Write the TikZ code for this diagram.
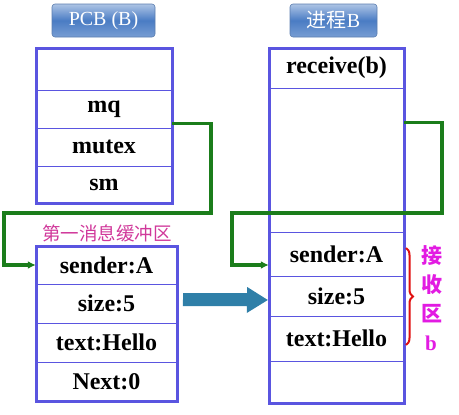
\documentclass[tikz,border=0pt]{standalone}
\usepackage{fontspec}
\setmainfont{Liberation Serif}
\newfontfamily\cjk{Noto Sans CJK SC}
\usetikzlibrary{decorations.pathreplacing,arrows.meta,calc}
\definecolor{boxc}{HTML}{5A55E0}
\definecolor{grn}{HTML}{1B7D1B}
\definecolor{arrc}{HTML}{2F7FA8}
\definecolor{lbl}{HTML}{4A7CC4}
\definecolor{mag}{HTML}{E21BE2}
\definecolor{pinkt}{HTML}{D0389A}
\definecolor{brc}{HTML}{E01010}
\begin{document}
\begin{tikzpicture}[x=1pt,y=-1pt,
  cell/.style={inner sep=0pt, font=\bfseries\fontsize{24}{24}\selectfont, anchor=center},
  frame/.style={draw=boxc, line width=3pt},
  divider/.style={draw=boxc, line width=0.9pt},
  link/.style={draw=grn, line width=3.2pt, -{Latex[length=8pt,width=8pt]}},
  lblbox/.style={rounded corners=3pt, inner sep=0pt, text=white, draw=lbl!70!gray, line width=0.6pt,
     top color=lbl!45!white, bottom color=lbl!75!white, middle color=lbl},
  side/.style={text=mag, font=\cjk\bfseries\fontsize{21}{21}\selectfont, inner sep=0pt}]
\useasboundingbox (0,0) rectangle (459,415);
% labels
\node[lblbox, minimum width=103pt, minimum height=33pt, font=\fontsize{20}{20}\selectfont] (pcbl) at (103.5,20.5) {PCB (B)};
\node[lblbox, minimum width=87pt, minimum height=33pt, font=\fontsize{20}{20}\selectfont] (procl) at (333.5,20.5) {{\cjk 进程}B};
% left PCB cells
\node[cell, minimum width=136pt, minimum height=42pt] (p0) at (104,69) {};
\node[cell, minimum width=136pt, minimum height=38pt] (mq) at (104,109) {mq};
\node[cell, minimum width=136pt, minimum height=38pt] (mutex) at (104,147) {mutex};
\node[cell, minimum width=136pt, minimum height=37pt] (sm) at (104,184.5) {sm};
\draw[divider] (36,90) -- (172,90) (36,128) -- (172,128) (36,166) -- (172,166);
\draw[frame] (36,48) rectangle (172,203);
% message buffer
\node[text=pinkt, font=\cjk\fontsize{18.5}{18.5}\selectfont, inner sep=0pt] (mtitle) at (107,233) {第一消息缓冲区};
\node[cell, minimum width=141pt, minimum height=38pt] (s1) at (106.5,265) {sender:A};
\node[cell, minimum width=141pt, minimum height=39pt] (s2) at (106.5,303.5) {size:5};
\node[cell, minimum width=141pt, minimum height=39pt] (s3) at (106.5,342.5) {text:Hello};
\node[cell, minimum width=141pt, minimum height=39pt] (s4) at (106.5,381.5) {Next:0};
\draw[divider] (36,284) -- (177,284) (36,323) -- (177,323) (36,362) -- (177,362);
\draw[frame] (36,246) rectangle (177,401);
% right process
\node[cell, minimum width=135pt, minimum height=40pt] (r0) at (336.5,68) {receive(b)};
\node[cell, minimum width=135pt, minimum height=144pt] (r1) at (336.5,160) {};
\node[cell, minimum width=135pt, minimum height=44pt] (r2) at (336.5,254) {sender:A};
\node[cell, minimum width=135pt, minimum height=40pt] (r3) at (336.5,296) {size:5};
\node[cell, minimum width=135pt, minimum height=45pt] (r4) at (336.5,338.5) {text:Hello};
\node[cell, minimum width=135pt, minimum height=42pt] (r5) at (336.5,382) {};
\draw[divider] (269,88) -- (404,88) (269,232) -- (404,232) (269,276) -- (404,276) (269,316) -- (404,316) (269,361) -- (404,361);
\draw[frame] (269,48) rectangle (404,403);
% green links
\coordinate (a0) at ($(mq.south east)+(0,-5)$);
\coordinate (a1) at (211,213);
\coordinate (a2) at (4,213);
\draw[link] (a0) -| (a1) -- (a2) |- (s1.west);
\coordinate (b0) at ($(r1.north east)+(0,35)$);
\coordinate (b1) at (442,213);
\coordinate (b2) at (232,213);
\draw[link] (b0) -| (b1) -- (b2) |- ($(r2.west)+(0,11)$);
% blue block arrow
\fill[arrc] ($(s2.east)+(6,-10.5)$) -- ++(64,0) -- ++(0,-6) -- ($(r3.west)+(-1,4)$) -- ++(-21,13) -- ++(0,-7) -- ++(-64,0) -- cycle;
% brace
\draw[brc, line width=2pt, decorate, decoration={brace, amplitude=7pt}] (406,248) -- (406,345);
\node[side] (k1) at (432,256) {接};
\node[side] (k2) at (432,285) {收};
\node[side] (k3) at (432,314) {区};
\node[side, font=\bfseries\fontsize{21}{21}\selectfont] (k4) at (431,343) {b};
\end{tikzpicture}
\end{document}
